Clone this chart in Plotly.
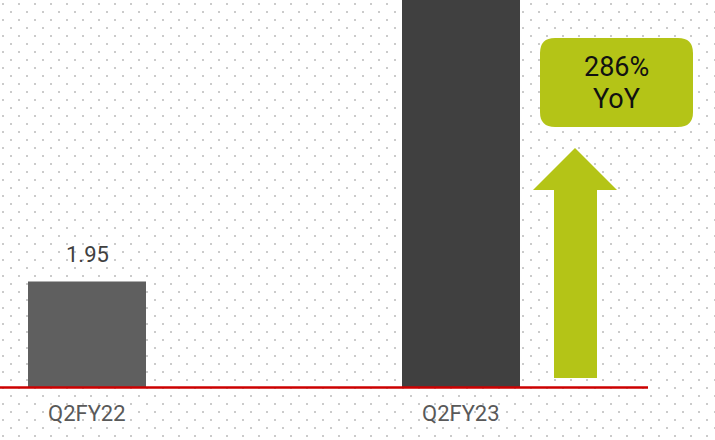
import numpy as np
import plotly.graph_objects as go

# Quarterly values (same units as the printed labels)
categories = ["Q2FY22", "Q2FY23"]
values = [1.95, 7.53]
bar_colors = ["#5f5f5f", "#404040"]

W, H = 715, 440
growth = round((values[1] / values[0] - 1) * 100)
FONT = "Roboto, Liberation Sans, Arial"

# Scales of the bar plot, expressed relative to the page
baseline_px = 387.5          # where value 0 sits
px_per_unit = 54.4
cat0_px, cat_step_px = 87, 374
bar_width = 118 / cat_step_px

y_top = baseline_px / px_per_unit
y_bottom = -(H - baseline_px) / px_per_unit
x_left = -cat0_px / cat_step_px
x_right = (W - cat0_px) / cat_step_px

fig = go.Figure()

# Dotted paper background (two staggered 16px lattices)
gx, gy = np.meshgrid(np.arange(3, W + 16, 16), np.arange(4, H + 16, 16))
hx, hy = np.meshgrid(np.arange(11, W + 16, 16), np.arange(12, H + 16, 16))
dot_x = np.concatenate([gx.ravel(), hx.ravel()])
dot_y = np.concatenate([gy.ravel(), hy.ravel()])
fig.add_trace(go.Scatter(
    x=dot_x, y=dot_y, mode="markers", xaxis="x", yaxis="y",
    marker=dict(symbol="square", size=2, color="#cbcbcb", line=dict(width=0)),
    hoverinfo="skip", showlegend=False,
))

# Bars
fig.add_trace(go.Bar(
    x=list(range(len(categories))), y=values, width=bar_width,
    marker=dict(color=bar_colors, line=dict(width=0)),
    xaxis="x2", yaxis="y2", showlegend=False, hoverinfo="skip",
))

annotations = []
# value label above the first bar
annotations.append(dict(
    x=0, y=values[0], xref="x2", yref="y2", text=f"{values[0]:.2f}",
    showarrow=False, yanchor="bottom", yshift=12,
    font=dict(family=FONT, size=22, color="#404040"),
))
# category labels under the baseline
for i, c in enumerate(categories):
    annotations.append(dict(
        x=i, y=413, xref="x2", yref="y", text=c, showarrow=False,
        yanchor="middle",
        font=dict(family=FONT, size=22, color="#595959"),
    ))

# Growth badge
bx0, bx1, by0, by1, r = 540, 693, 38, 127, 15
badge = (f"M{bx0 + r},{by0} L{bx1 - r},{by0} Q{bx1},{by0} {bx1},{by0 + r} "
         f"L{bx1},{by1 - r} Q{bx1},{by1} {bx1 - r},{by1} "
         f"L{bx0 + r},{by1} Q{bx0},{by1} {bx0},{by1 - r} "
         f"L{bx0},{by0 + r} Q{bx0},{by0} {bx0 + r},{by0} Z")
for line_text, cy in [(f"{growth}%", 67), ("YoY", 99)]:
    annotations.append(dict(
        x=(bx0 + bx1) / 2, y=cy, xref="x", yref="y",
        text=line_text, showarrow=False, yanchor="middle",
        font=dict(family=FONT, size=27, color="#111111"),
    ))

# Up arrow
arrow = "M575,148 L617,190 L597,190 L597,378 L554,378 L554,190 L533,190 Z"

green = "#b4c417"
shapes = [
    dict(type="path", path=badge, xref="x", yref="y", fillcolor=green,
         line=dict(width=0), layer="above"),
    dict(type="path", path=arrow, xref="x", yref="y", fillcolor=green,
         line=dict(width=0), layer="above"),
    dict(type="line", x0=0, x1=648, y0=0, y1=0, xref="x", yref="y2",
         line=dict(color="#cc0000", width=2.5), layer="above"),
]

fig.update_layout(
    width=W, height=H,
    margin=dict(l=0, r=0, t=0, b=0),
    paper_bgcolor="white", plot_bgcolor="rgba(0,0,0,0)",
    xaxis=dict(range=[0, W], visible=False, fixedrange=True),
    yaxis=dict(range=[H, 0], visible=False, fixedrange=True),
    xaxis2=dict(range=[x_left, x_right], overlaying="x", visible=False),
    yaxis2=dict(range=[y_bottom, y_top], overlaying="y", visible=False),
    shapes=shapes,
    annotations=annotations,
    showlegend=False,
)

fig.write_html("out.html")
